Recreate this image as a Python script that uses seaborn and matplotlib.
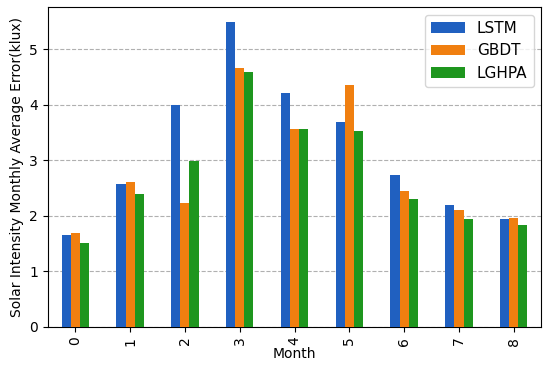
import numpy as np
import pandas as pd
import matplotlib
matplotlib.use("Agg")
import matplotlib.pyplot as plt
import seaborn as sns

# values
months = [0, 1, 2, 3, 4, 5, 6, 7, 8]
lstm = [1.65, 2.58, 4.00, 5.49, 4.21, 3.69, 2.74, 2.19, 1.94]
gbdt = [1.70, 2.61, 2.23, 4.66, 3.56, 4.35, 2.44, 2.10, 1.97]
lghpa = [1.52, 2.40, 2.98, 4.59, 3.56, 3.53, 2.31, 1.94, 1.84]
models = ["LSTM", "GBDT", "LGHPA"]
colors = ["#2060c0", "#f07f10", "#1e961e"]

data = pd.DataFrame({
    "Month": months * 3,
    "Model": ["LSTM"] * 9 + ["GBDT"] * 9 + ["LGHPA"] * 9,
    "Error": lstm + gbdt + lghpa,
})

fig = plt.figure(figsize=(5.5, 3.72), dpi=100)
ax = fig.add_axes([0.087, 0.121, 0.897, 0.86])

sns.barplot(data=data, x="Month", y="Error", hue="Model", hue_order=models,
            palette=colors, width=0.5, gap=0, saturation=1, ax=ax, zorder=3)

ax.set_xlim(-0.5, 8.5)
ax.set_ylim(0, 5.76)
ax.set_yticks([0, 1, 2, 3, 4, 5])
ax.tick_params(axis="x", labelrotation=90)
ax.grid(axis="y", linestyle="--", color="#b0b0b0", linewidth=0.8, zorder=0)
ax.set_axisbelow(True)
ax.set_xlabel("Month", labelpad=1)
ax.set_ylabel("Solar Intensity Monthly Average Error(klux)")
ax.legend(title=None, loc="upper right", fontsize=11, handlelength=2.2)

fig.savefig("out.png", dpi=100)
